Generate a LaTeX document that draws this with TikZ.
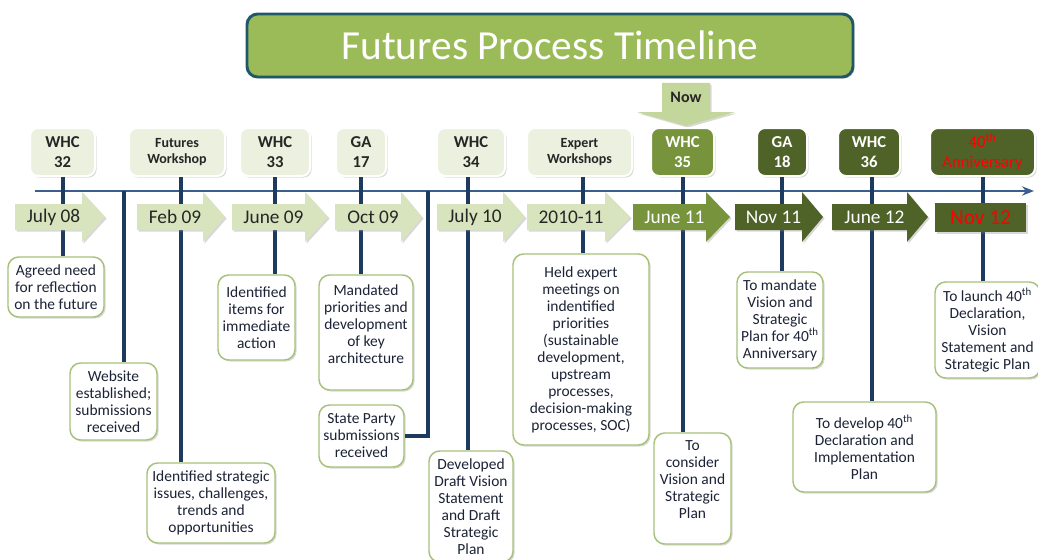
\documentclass[tikz,border=0pt]{standalone}
\usepackage{fontspec}
\setmainfont{Carlito}
\usetikzlibrary{shadows,arrows.meta,calc}
\definecolor{titlegreen}{HTML}{9BBB59}
\definecolor{titleborder}{HTML}{215868}
\definecolor{topfill}{HTML}{EBF1DE}
\definecolor{darkgreen}{HTML}{4F6228}
\definecolor{midgreen}{HTML}{77933C}
\definecolor{lightarrow}{HTML}{D7E4BD}
\definecolor{nowfill}{HTML}{C3D69B}
\definecolor{boxgreen}{HTML}{A6C27A}
\definecolor{txtnavy}{HTML}{1C2336}
\definecolor{txtdark}{HTML}{262626}
\definecolor{axisblue}{HTML}{3A5F8F}
\definecolor{connavy}{HTML}{1F3A5F}
\definecolor{annred}{HTML}{FF0000}
\newcommand\mybox[7]{\node[#6, minimum width={(#4-#2)*0.75pt}, minimum height={(#5-#3)*0.75pt}] (#1) at ({(#2+#4)/2},{(#3+#5)/2}) {#7};}
\newcommand\darrow[7]{%
  \fill[#5] (#2,204) -- (#3,204) -- (#3,192) -- (#4,217) -- (#3,242) -- (#3,230) -- (#2,230) -- cycle;
  \node[datetxt,#6] (#1) at ({(#2+#3)/2+5},217) {#7};}
\begin{document}
\begin{tikzpicture}[x=0.75pt,y=-0.75pt,
  shade/.style={drop shadow={opacity=.3,shadow xshift=1.2pt,shadow yshift=-1.2pt}},
  titlebox/.style={rounded corners=8pt, fill=titlegreen, draw=titleborder, line width=2.2pt, text=white, inner sep=0pt, font=\fontsize{31}{36}\selectfont, shade},
  topL/.style={rounded corners=6pt, fill=topfill, draw=white, line width=1.5pt, shade, inner sep=0pt, align=center, text=txtdark, font=\fontsize{12.5}{15}\selectfont\bfseries},
  topS/.style={topL, font=\fontsize{10.5}{12.5}\selectfont\bfseries},
  topD/.style={topL, fill=darkgreen, text=white},
  topM/.style={topL, fill=midgreen, text=white},
  topR/.style={topL, fill=darkgreen, text=annred, font=\fontsize{12.5}{15}\selectfont},
  btm/.style={rounded corners=8pt, fill=white, draw=boxgreen, line width=1.1pt, shade, inner sep=0pt, align=center, text=txtnavy, font=\fontsize{11.6}{12.75}\selectfont},
  arL/.style={fill=lightarrow, shade},
  arM/.style={fill=midgreen, shade},
  arD/.style={fill=darkgreen, shade},
  datetxt/.style={inner sep=0pt, font=\fontsize{14.5}{17}\selectfont, text=txtdark},
  datew/.style={text=white},
  nov/.style={fill=darkgreen, inner sep=0pt, text=annred, font=\fontsize{16}{19}\selectfont, shade},
  axisline/.style={draw=axisblue, line width=2pt, -{Stealth[length=9pt,width=7pt]}},
  conn/.style={draw=connavy, line width=3pt}
]
\useasboundingbox (0,0) rectangle (1038,560);
\clip (0,0) rectangle (1038,560);
\fill[white] (0,0) rectangle (1038,560);

% title
\mybox{title}{247}{14}{853}{77}{titlebox}{Futures Process Timeline}

% Now arrow
\fill[nowfill, shade] (662,83) -- (710,83) -- (710,112) -- (735,112) -- (686,126) -- (637,112) -- (662,112) -- cycle;
\node[inner sep=0pt, font=\fontsize{12}{14}\selectfont\bfseries, text=txtdark] (now) at (686,97) {Now};

% top boxes
\mybox{t32}{30}{128}{95}{176}{topL}{WHC\\32}
\mybox{tws}{129}{128}{225}{176}{topS}{Futures\\Workshop}
\mybox{t33}{240}{128}{310}{176}{topL}{WHC\\33}
\mybox{t17}{336}{128}{386}{176}{topL}{GA\\17}
\mybox{t34}{437}{128}{505}{176}{topL}{WHC\\34}
\mybox{tew}{527}{128}{632}{176}{topS}{Expert\\Workshops}
\mybox{t35}{651}{128}{714}{176}{topM}{WHC\\35}
\mybox{t18}{757}{128}{807}{176}{topD}{GA\\18}
\mybox{t36}{838}{128}{900}{176}{topD}{WHC\\36}
\mybox{t40}{930}{128}{1035}{176}{topR}{40\textsuperscript{th}\\Anniversary}

% bottom boxes
\mybox{b32}{8}{257}{104}{317}{btm}{Agreed need\\for reflection\\on the future}
\mybox{web}{70}{363}{157}{440}{btm}{Website\\established;\\submissions\\received}
\mybox{bws}{147}{463}{275}{543}{btm}{Identified strategic\\issues, challenges,\\trends and\\opportunities}
\mybox{b33}{218}{275}{295}{360}{btm}{Identified\\items for\\immediate\\action}
\mybox{b17}{319}{275}{413}{390}{btm}{Mandated\\priorities and\\development\\of key\\architecture\\~}
\mybox{sp}{319}{405}{404}{467}{btm}{State Party\\submissions\\received}
\mybox{b34}{429}{451}{513}{562}{btm}{Developed\\Draft Vision\\Statement\\and Draft\\Strategic\\Plan}
\mybox{bew}{513}{254}{649}{445}{btm}{Held expert\\meetings on\\indentified\\priorities\\(sustainable\\development,\\upstream\\processes,\\decision-making\\processes, SOC)}
\mybox{b35}{654}{433}{731}{544}{btm}{To\\consider\\Vision and\\Strategic\\Plan\\~}
\mybox{b18}{737}{272}{823}{368}{btm}{To mandate\\Vision and\\Strategic\\Plan for 40\textsuperscript{th}\\Anniversary}
\mybox{b36}{793}{402}{936}{492}{btm}{To develop 40\textsuperscript{th}\\Declaration and\\Implementation\\Plan}
\mybox{b40}{935}{282}{1040}{378}{btm}{To launch 40\textsuperscript{th}\\Declaration,\\Vision\\Statement and\\Strategic Plan}

% axis
\coordinate (axs) at (35,191);
\coordinate (axe) at (1034,191);
\coordinate (ax1) at (124,191);
\coordinate (ax2) at (428,191);
\draw[axisline] (axs) -- (axe);

% connectors
\draw[conn] (t32.south) -- (t32.south |- b32.north);
\draw[conn] (ax1) -- (ax1 |- web.north);
\draw[conn] ([xshift=3pt]tws.south) -- ([xshift=3pt]tws.south |- bws.north);
\draw[conn] (t33.south) -- (t33.south |- b33.north);
\draw[conn] (t17.south) -- (t17.south |- b17.north);
\draw[conn] (ax2) |- (sp.east);
\draw[conn] ([xshift=-2pt]t34.south) -- ([xshift=-2pt]t34.south |- b34.north);
\draw[conn] ([xshift=2.5pt]tew.south) -- ([xshift=2.5pt]tew.south |- bew.north);
\draw[conn] (t35.south) -- (t35.south |- b35.north);
\draw[conn] (t18.south) -- (t18.south |- b18.north);
\draw[conn] ([xshift=2pt]t36.south) -- ([xshift=2pt]t36.south |- b36.north);
\draw[conn] (t40.south) -- (t40.south |- b40.north);

% date arrows
\darrow{d08}{15}{82}{105}{arL}{}{July 08}
\darrow{d09a}{137}{203}{225}{arL}{}{Feb 09}
\darrow{d09b}{232}{305}{328}{arL}{}{June 09}
\darrow{d09c}{335}{401}{422}{arL}{}{Oct 09}
\darrow{d10}{437}{503}{525}{arL}{}{July 10}
\darrow{d1011}{527}{605}{630}{arL}{}{2010-11}
\darrow{d11a}{633}{706}{730}{arM}{datew}{June 11}
\darrow{d11b}{735}{802}{823}{arD}{datew}{Nov 11}
\darrow{d12a}{832}{907}{928}{arD}{datew}{June 12}
\mybox{d12b}{935}{203}{1026}{232}{nov}{Nov 12}
\end{tikzpicture}
\end{document}
